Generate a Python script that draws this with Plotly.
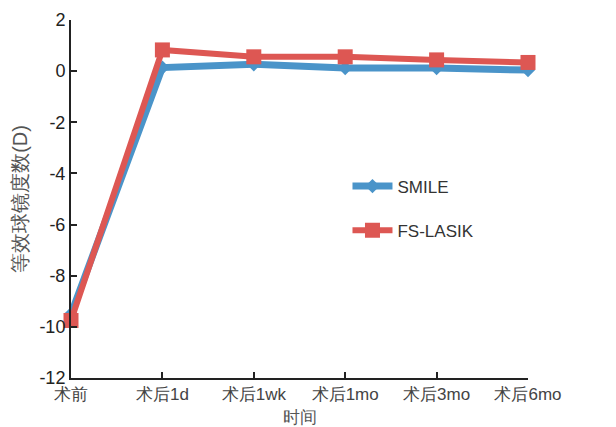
import plotly.graph_objects as go

categories = ["术前", "术后1d", "术后1wk", "术后1mo", "术后3mo", "术后6mo"]
smile = [-9.5, 0.14, 0.27, 0.12, 0.12, 0.04]
fslasik = [-9.75, 0.83, 0.56, 0.56, 0.44, 0.34]
yticks = [2, 0, -2, -4, -6, -8, -10, -12]

xs = list(range(len(categories)))
fig = go.Figure()
fig.add_trace(go.Scatter(x=xs, y=smile, name="SMILE", mode="lines+markers",
                         legendgroup="a",
                         line=dict(color="#4a94c9", width=7),
                         marker=dict(symbol="diamond", size=11, color="#4a94c9")))
fig.add_trace(go.Scatter(x=xs, y=fslasik, name="FS-LASIK", mode="lines+markers",
                         legendgroup="b",
                         line=dict(color="#dd5753", width=6),
                         marker=dict(symbol="square", size=15, color="#dd5753")))

fig.update_layout(
    width=608, height=419,
    margin=dict(l=63, r=88, t=12, b=49),
    plot_bgcolor="white", paper_bgcolor="white",
    font=dict(family="Liberation Sans, Arial, sans-serif", size=16, color="#222"),
    showlegend=True,
    legend=dict(x=0.605, y=0.585, xanchor="left", yanchor="top",
                bgcolor="rgba(0,0,0,0)", tracegroupgap=19, traceorder="grouped",
                font=dict(size=17, color="#333"), itemwidth=40),
    xaxis=dict(range=[0, 5], tickvals=xs, ticktext=categories, automargin=False,
               showline=True, linecolor="#222", linewidth=2,
               ticks="inside", ticklen=6, tickwidth=1.5, tickcolor="#222",
               showgrid=False, zeroline=False,
               tickfont=dict(size=17, color="#444"),
               title=dict(text="时间", font=dict(size=17, color="#555"), standoff=8)),
    yaxis=dict(range=[-12, 2], tickvals=yticks, ticktext=[str(v) for v in yticks], automargin=False,
               showline=True, linecolor="#222", linewidth=2,
               ticks="inside", ticklen=6, tickwidth=1.5, tickcolor="#222",
               showgrid=False, zeroline=False,
               tickfont=dict(size=18, color="#222"),
               title=dict(text="等效球镜度数(D)", font=dict(size=20, color="#555"), standoff=6)),
)
fig.update_traces(cliponaxis=False)
fig.write_html("out.html")
